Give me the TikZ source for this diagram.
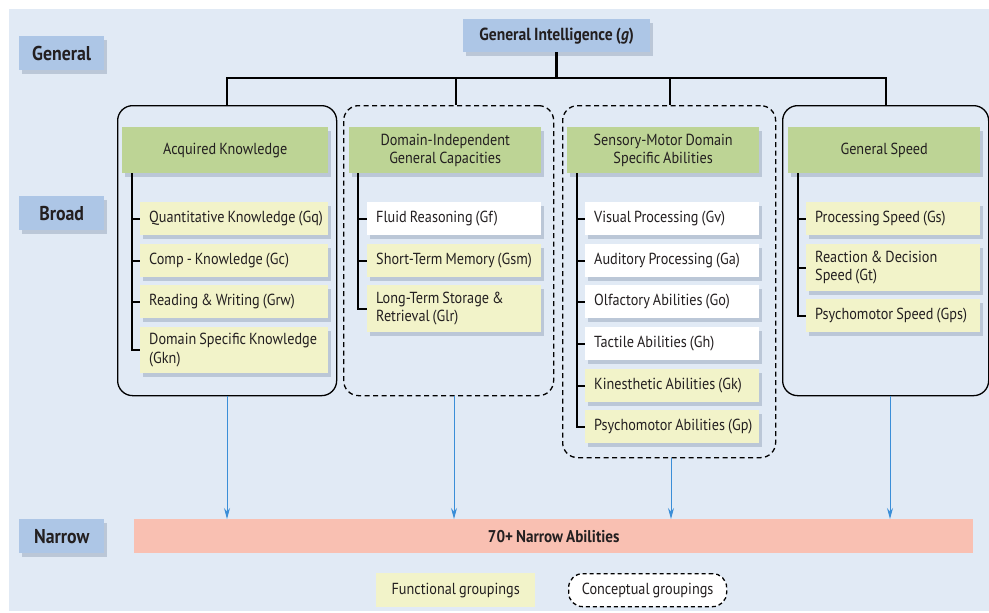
\documentclass[tikz,border=0pt]{standalone}
\usepackage{fontspec}
\setmainfont{PT Sans}[FakeStretch=0.89,WordSpace=0.8]
\usetikzlibrary{shadows,arrows.meta}
\definecolor{bg}{HTML}{E1EAF5}
\definecolor{lblue}{HTML}{ADC6E6}
\definecolor{hgreen}{HTML}{BDD495}
\definecolor{iyel}{HTML}{F2F3C9}
\definecolor{nred}{HTML}{F9C0B2}
\definecolor{ablue}{HTML}{3A8ED8}
\definecolor{txt}{HTML}{231F20}
\definecolor{shc}{HTML}{5A6E8C}
\begin{document}
\begin{tikzpicture}[x=1pt,y=-1pt,
  every node/.style={text=txt},
  shad/.style={drop shadow={opacity=0.28,fill=shc,shadow xshift=3pt,shadow yshift=-4pt}},
  lvl/.style={shad,fill=lblue,anchor=north west,minimum width=85pt,minimum height=34pt,inner sep=0pt,font=\bfseries\fontsize{20}{22}\selectfont},
  hdr/.style={shad,fill=hgreen,anchor=north west,minimum height=46pt,inner sep=0pt,align=center,font=\fontsize{16}{18.5}\selectfont},
  item/.style={shad,fill=iyel,anchor=north west,minimum height=33pt,inner xsep=0pt,inner ysep=2pt,align=flush left,
    execute at begin node={\leftskip=9pt\hyphenpenalty=10000},font=\fontsize{16}{18.5}\selectfont},
  witem/.style={item,fill=white},
  grp/.style={draw=black,line width=1.3pt,rounded corners=15pt,anchor=north west,inner sep=0pt},
  dgrp/.style={grp,dash pattern=on 5pt off 3.5pt},
  conn/.style={draw=black,line width=1.5pt},
  tree/.style={draw=black,line width=1.8pt},
  arr/.style={draw=ablue,line width=1pt,-{Stealth[length=11pt,width=6pt]}}]
\useasboundingbox (0,0) rectangle (989,613);
\fill[bg] (9,9) rectangle (989,611);
% level labels
\node[lvl] (lgen) at (19,36) {General};
\node[lvl] (lbro) at (19,196) {Broad};
\node[lvl] (lnar) at (19,519) {Narrow};
% top
\node[shad,fill=lblue,anchor=north west,minimum width=187pt,minimum height=33pt,inner sep=0pt,font=\bfseries\fontsize{17.5}{20}\selectfont] (gi) at (463,19) {General Intelligence (\textit{g})};
% groups
\node[grp,minimum width=219pt,minimum height=290pt] (g1) at (117,105) {};
\node[dgrp,minimum width=210pt,minimum height=290pt] (g2) at (343,105) {};
\node[dgrp,minimum width=213pt,minimum height=352pt] (g3) at (562,105) {};
\node[grp,minimum width=206pt,minimum height=290pt] (g4) at (782,105) {};
% bus
\coordinate (bus) at (0,78);
\coordinate (d2) at (456,0);
\coordinate (d3) at (670,0);
\coordinate (d4) at (886,0);
\draw[line width=2.5pt] (gi.south) -- (gi.south |- bus);
\draw[conn] (g1.north) -- (g1.north |- bus) -- (d4 |- bus) -- (d4 |- g4.north);
\draw[conn] (d2 |- bus) -- (d2 |- g2.north);
\draw[conn] (d3 |- bus) -- (d3 |- g3.north);
% headers
\node[hdr,minimum width=206pt] (h1) at (122,127) {Acquired Knowledge};
\node[hdr,minimum width=192pt] (h2) at (349,127) {Domain-Independent\\General Capacities};
\node[hdr,minimum width=192pt] (h3) at (567,127) {Sensory-Motor Domain\\Specific Abilities};
\node[hdr,minimum width=192pt] (h4) at (788,127) {General Speed};
% group 1 items
\node[item,text width=188pt] (gq) at (140,202) {Quantitative Knowledge (Gq)};
\node[item,text width=188pt] (gc) at (140,244) {Comp - Knowledge (Gc)};
\node[item,text width=188pt] (grw) at (140,285) {Reading \& Writing (Grw)};
\node[item,text width=188pt,minimum height=46pt] (gkn) at (140,327) {Domain Specific Knowledge\\(Gkn)};
% group 2 items
\node[witem,text width=174pt] (gf) at (367,202) {Fluid Reasoning (Gf)};
\node[item,text width=174pt] (gsm) at (367,244) {Short-Term Memory (Gsm)};
\node[item,text width=174pt,minimum height=47pt] (glr) at (367,285) {Long-Term Storage \&\\Retrieval (Glr)};
% group 3 items
\node[witem,text width=174pt] (gv) at (585,202) {Visual Processing (Gv)};
\node[witem,text width=174pt] (ga) at (585,244) {Auditory Processing (Ga)};
\node[witem,text width=174pt] (go) at (585,285) {Olfactory Abilities (Go)};
\node[witem,text width=174pt] (gh) at (585,327) {Tactile Abilities (Gh)};
\node[item,text width=174pt] (gk) at (585,369) {Kinesthetic Abilities (Gk)};
\node[item,text width=174pt] (gp) at (585,410) {Psychomotor Abilities (Gp)};
% group 4 items
\node[item,text width=174pt] (gs) at (806,202) {Processing Speed (Gs)};
\node[item,text width=174pt,minimum height=47pt] (gt) at (806,244) {Reaction \& Decision\\Speed (Gt)};
\node[item,text width=174pt] (gps) at (806,299) {Psychomotor Speed (Gps)};
% tree lines
\coordinate (v1) at (132,0);
\coordinate (v2) at (358,0);
\coordinate (v3) at (577,0);
\coordinate (v4) at (798,0);
\draw[tree] (v1 |- h1.south) -- (v1 |- gkn.west) -- (gkn.west);
\foreach \n in {gq,gc,grw} \draw[tree] (v1 |- \n.west) -- (\n.west);
\draw[tree] (v2 |- h2.south) -- (v2 |- glr.west) -- (glr.west);
\foreach \n in {gf,gsm} \draw[tree] (v2 |- \n.west) -- (\n.west);
\draw[tree] (v3 |- h3.south) -- (v3 |- gp.west) -- (gp.west);
\foreach \n in {gv,ga,go,gh,gk} \draw[tree] (v3 |- \n.west) -- (\n.west);
\draw[tree] (v4 |- h4.south) -- (v4 |- gps.west) -- (gps.west);
\foreach \n in {gs,gt} \draw[tree] (v4 |- \n.west) -- (\n.west);
% narrow
\node[fill=nred,anchor=north west,minimum width=839pt,minimum height=34pt,inner sep=0pt,font=\bfseries\fontsize{17}{19}\selectfont] (nar) at (134,519) {70+ Narrow Abilities};
\coordinate (a1) at (227,0);
\coordinate (a2) at (454,0);
\coordinate (a3) at (671,0);
\coordinate (a4) at (890,0);
\draw[arr] (a1 |- g1.south) -- (a1 |- nar.north);
\draw[arr] (a2 |- g2.south) -- (a2 |- nar.north);
\draw[arr] (a3 |- g3.south) -- (a3 |- nar.north);
\draw[arr] (a4 |- g4.south) -- (a4 |- nar.north);
% legend
\node[fill=iyel,anchor=north west,minimum width=159pt,minimum height=34pt,inner sep=0pt,font=\fontsize{16}{18}\selectfont] (lf) at (376,573) {Functional groupings};
\node[fill=white,draw=black,line width=1.3pt,dash pattern=on 4pt off 3pt,rounded corners=14pt,anchor=north west,minimum width=158pt,minimum height=33pt,inner sep=0pt,font=\fontsize{16}{18}\selectfont] (lc) at (568,573) {Conceptual groupings};
\end{tikzpicture}
\end{document}
